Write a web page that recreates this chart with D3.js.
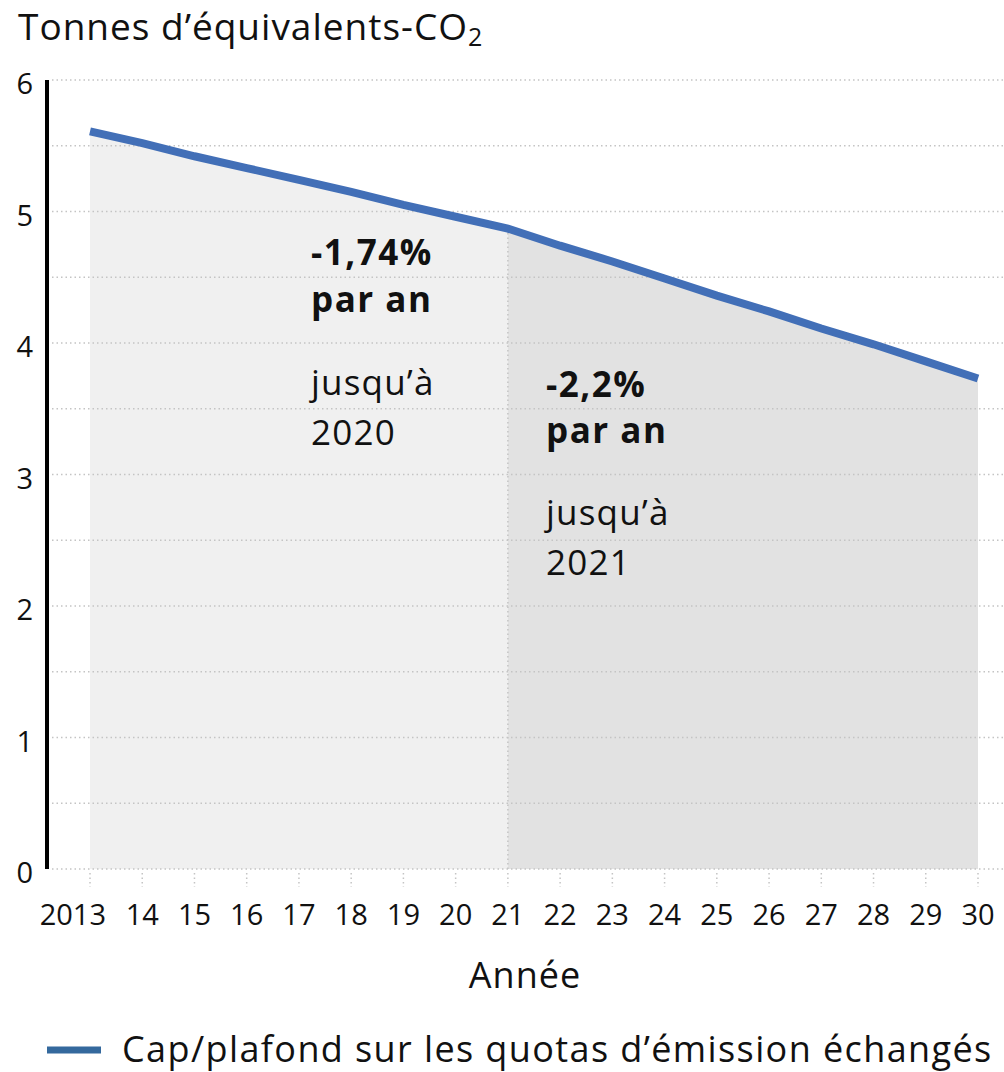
<!DOCTYPE html>
<html>
<head>
<meta charset="utf-8">
<script src="https://cdn.jsdelivr.net/npm/d3@7"></script>
<style>
  body { margin: 0; background: #fff; }
  svg { display: block; font-family: "Open Sans", Roboto, sans-serif; }
</style>
</head>
<body>
<svg width="1004" height="1072"></svg>
<script>
// Data ======================================================
const years = [2013, 2014, 2015, 2016, 2017, 2018, 2019, 2020, 2021,
               2022, 2023, 2024, 2025, 2026, 2027, 2028, 2029, 2030];
const capValues = [5.61, 5.52, 5.42, 5.33, 5.24, 5.15, 5.05, 4.96, 4.87,
                   4.74, 4.62, 4.49, 4.36, 4.24, 4.11, 3.99, 3.86, 3.73];
const xTickLabels = ["2013", "14", "15", "16", "17", "18", "19", "20", "21",
                     "22", "23", "24", "25", "26", "27", "28", "29", "30"];
const yTicks = [0, 1, 2, 3, 4, 5, 6];
const gridValues = [0, 0.5, 1, 1.5, 2, 2.5, 3, 3.5, 4, 4.5, 5, 5.5, 6];
const breakYear = 2021;
const noteFirst = ["-1,74%", "par an", "jusqu\u2019à", "2020"];
const noteSecond = ["-2,2%", "par an", "jusqu\u2019à", "2021"];
const seriesName = "Cap/plafond sur les quotas d\u2019émission échangés";

// Setup =====================================================
const svg = d3.select("svg");
const x = d3.scaleLinear().domain([2013, 2030]).range([90, 978]);
const y = d3.scaleLinear().domain([0, 6]).range([869, 80]);

const rows = years.map((yr, i) => ({ year: yr, value: capValues[i] }));
const firstPart = rows.filter(d => d.year <= breakYear);
const secondPart = rows.filter(d => d.year >= breakYear);

const area = d3.area()
    .x(d => x(d.year))
    .y0(y(0))
    .y1(d => y(d.value));

// shaded periods
svg.append("path").datum(firstPart).attr("d", area).attr("fill", "#f0f0f0");
svg.append("path").datum(secondPart).attr("d", area).attr("fill", "#e2e2e2");

// horizontal dotted grid
svg.append("g")
  .selectAll("line")
  .data(gridValues)
  .enter().append("line")
    .attr("x1", 52).attr("x2", 1004)
    .attr("y1", d => y(d)).attr("y2", d => y(d))
    .attr("stroke", "#c4c4c4")
    .attr("stroke-width", 1.5)
    .attr("stroke-dasharray", "1.5,3");

// divider at 2021
svg.append("line")
    .attr("x1", x(breakYear)).attr("x2", x(breakYear))
    .attr("y1", y(capValues[years.indexOf(breakYear)]))
    .attr("y2", y(0))
    .attr("stroke", "#c4c4c4")
    .attr("stroke-width", 1.5)
    .attr("stroke-dasharray", "1.5,3");

// x axis ticks (dotted) + labels
const xAxis = svg.append("g").attr("transform", "translate(0," + y(0) + ")");
xAxis.selectAll("line")
  .data(years)
  .enter().append("line")
    .attr("x1", d => x(d)).attr("x2", d => x(d))
    .attr("y1", 4).attr("y2", 18)
    .attr("stroke", "#c4c4c4")
    .attr("stroke-width", 1.5)
    .attr("stroke-dasharray", "1.5,3");
xAxis.selectAll("text")
  .data(years)
  .enter().append("text")
    .attr("x", (d, i) => i === 0 ? x(d) + 16 : x(d))
    .attr("y", 56)
    .attr("text-anchor", (d, i) => i === 0 ? "end" : "middle")
    .attr("font-size", 29)
    .attr("fill", "#111")
    .text((d, i) => xTickLabels[i]);

// y axis
svg.append("line")
    .attr("x1", 47).attr("x2", 47)
    .attr("y1", y(6)).attr("y2", y(0))
    .attr("stroke", "#000")
    .attr("stroke-width", 4);
svg.append("g")
  .selectAll("text")
  .data(yTicks)
  .enter().append("text")
    .attr("x", 33)
    .attr("y", d => y(d) + 14)
    .attr("text-anchor", "end")
    .attr("font-size", 29)
    .attr("fill", "#111")
    .text(d => d);

// series line
const line = d3.line().x(d => x(d.year)).y(d => y(d.value));
svg.append("path")
    .datum(rows)
    .attr("d", line)
    .attr("fill", "none")
    .attr("stroke", "#426fb7")
    .attr("stroke-width", 8);

// annotations
function note(lines, x0, baselines) {
  lines.forEach((t, i) => {
    svg.append("text")
      .attr("x", x0)
      .attr("y", baselines[i])
      .attr("font-size", 35)
      .attr("letter-spacing", i < 2 ? 1.5 : 1.2)
      .attr("font-weight", i < 2 ? "bold" : "normal")
      .attr("fill", "#111")
      .text(t);
  });
}
note(noteFirst, 311, [265, 312, 395, 445]);
note(noteSecond, 546, [397, 443, 525, 575]);

// titles
svg.append("text")
    .attr("x", 18).attr("y", 40)
    .attr("font-size", 37)
    .attr("letter-spacing", 1)
    .attr("fill", "#111")
    .text("Tonnes d\u2019équivalents-CO")
  .append("tspan")
    .attr("font-size", 25)
    .attr("dy", 6)
    .text("2");

svg.append("text")
    .attr("x", 525).attr("y", 988)
    .attr("text-anchor", "middle")
    .attr("font-size", 36)
    .attr("letter-spacing", 1)
    .attr("fill", "#111")
    .text("Année");

// legend
svg.append("line")
    .attr("x1", 47).attr("x2", 101)
    .attr("y1", 1050).attr("y2", 1050)
    .attr("stroke", "#34699d")
    .attr("stroke-width", 7);
svg.append("text")
    .attr("x", 122).attr("y", 1062)
    .attr("font-size", 36)
    .attr("letter-spacing", 1.4)
    .attr("fill", "#111")
    .text(seriesName);
</script>
</body>
</html>
